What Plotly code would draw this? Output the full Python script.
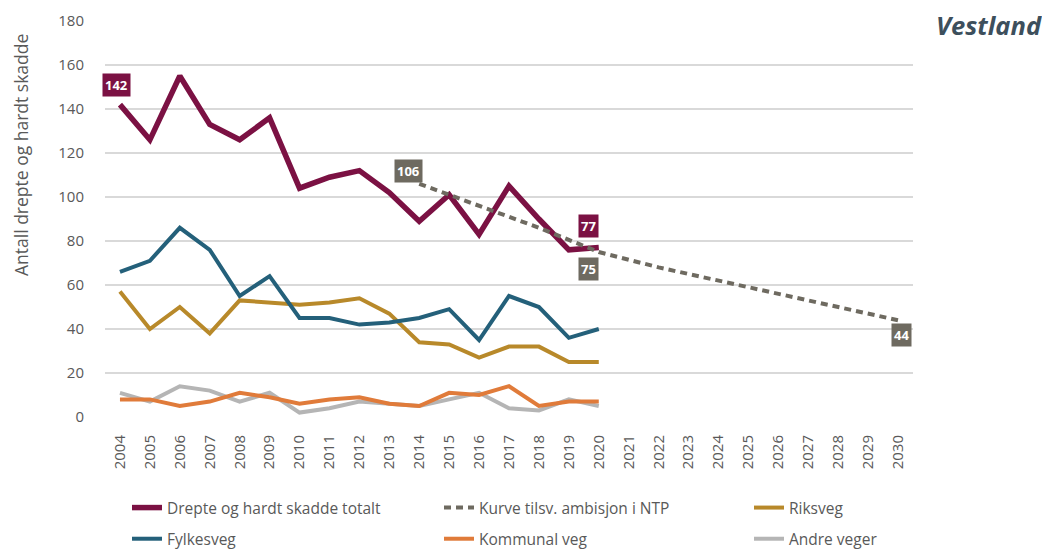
import plotly.graph_objects as go

years = list(range(2004, 2021))
all_years = list(range(2004, 2031))
totalt = [142, 126, 155, 133, 126, 136, 104, 109, 112, 102, 89, 101, 83, 105, 90, 76, 77]
fylkesveg = [66, 71, 86, 76, 55, 64, 45, 45, 42, 43, 45, 49, 35, 55, 50, 36, 40]
riksveg = [57, 40, 50, 38, 53, 52, 51, 52, 54, 47, 34, 33, 27, 32, 32, 25, 25]
kommunal = [8, 8, 5, 7, 11, 9, 6, 8, 9, 6, 5, 11, 10, 14, 5, 7, 7]
andre = [11, 7, 14, 12, 7, 11, 2, 4, 7, 6, 5, 8, 11, 4, 3, 8, 5]
ntp_years = list(range(2014, 2031))
ntp = [106, 101, 96, 91, 86, 80.5, 75, 71.5, 68, 65, 62, 59, 56, 53, 50, 47, 44]

C_TOT = "#7B1143"
C_NTP = "#6E6A60"
C_RIKS = "#B8892A"
C_FYLK = "#24607A"
C_KOMM = "#E07B3A"
C_ANDRE = "#B5B5B5"
TXT = "#595959"
FONT = "Open Sans"

# page has an 8px body margin: figure pixel = screen pixel - OFF
OFF = 8
W, H = 1042, 551
ML = 105 - OFF
MT = 21 - OFF
MR = W - (913 - OFF)
MB = H - (417 - OFF)
pw, ph = W - ML - MR, H - MT - MB

fig = go.Figure()
series = [
    (years, andre, "Andre veger", C_ANDRE, 4, None, "legend3", "b"),
    (years, kommunal, "Kommunal veg", C_KOMM, 4, None, "legend2", "b"),
    (years, riksveg, "Riksveg", C_RIKS, 4, None, "legend3", "a"),
    (years, fylkesveg, "Fylkesveg", C_FYLK, 4, None, "legend", "b"),
    (years, totalt, "Drepte og hardt skadde totalt", C_TOT, 5.5, None, "legend", "a"),
    (ntp_years, ntp, "Kurve tilsv. ambisjon i NTP", C_NTP, 4, "7px,5px", "legend2", "a"),
]
for xs, ys, name, col, w, dash, leg, grp in series:
    fig.add_trace(go.Scatter(x=xs, y=ys, name=name, mode="lines",
                             line=dict(color=col, width=w, dash=dash),
                             legend=leg, legendgroup=grp + leg, legendrank=1 if grp == "a" else 2))


def box(x, y, text, color):
    fig.add_annotation(x=x, y=y, xref="x", yref="y", text="<b>" + text + "</b>", showarrow=False,
                       bgcolor=color, font=dict(family=FONT, size=13, color="white"),
                       borderpad=2)


box(2003.9, 151, str(totalt[0]), C_TOT)
box(2013.65, 112, str(ntp[0]), C_NTP)
box(2019.65, 87, str(totalt[-1]), C_TOT)
box(2019.65, 67.5, str(ntp[6]), C_NTP)
box(2030.1, 37.5, str(ntp[-1]), C_NTP)


def px_x(sx):
    return (sx - OFF - ML) / pw


def px_y(sy):
    return (H - MB - (sy - OFF)) / ph


fig.add_annotation(x=px_x(1044), y=px_y(25), xref="paper", yref="paper",
                   text="<b><i>Vestland</i></b>", showarrow=False, xanchor="right", yanchor="middle",
                   font=dict(family=FONT, size=25.5, color="#3D4F5C"))

fig.add_annotation(x=px_x(21), y=px_y(155), xref="paper", yref="paper",
                   text="Antall drepte og hardt skadde", textangle=-90, showarrow=False,
                   xanchor="center", yanchor="middle",
                   font=dict(family=FONT, size=17.5, color=TXT))


def leg(text_x):
    lx = text_x - OFF - 41
    return dict(orientation="v", xref="container", yref="container",
                x=lx / W, y=1 - (491 - OFF) / H, xanchor="left", yanchor="top",
                traceorder="grouped", tracegroupgap=8, itemwidth=30,
                font=dict(family=FONT, size=15.5, color=TXT), bgcolor="rgba(0,0,0,0)")


fig.update_layout(
    width=W, height=H,
    margin=dict(l=ML, r=MR, t=MT, b=MB, autoexpand=False),
    plot_bgcolor="white", paper_bgcolor="white",
    font=dict(family=FONT, color=TXT),
    showlegend=True,
    legend=leg(168), legend2=leg(480), legend3=leg(790),
    xaxis=dict(range=[2003.5, 2030.5], tickmode="array", tickvals=all_years,
               ticktext=[str(y) for y in all_years], tickangle=-90, automargin=False,
               showgrid=False, zeroline=False, showline=False, ticks="", ticklabelstandoff=14,
               tickfont=dict(family=FONT, size=15, color=TXT)),
    yaxis=dict(range=[0, 180], dtick=20, showgrid=True, gridcolor="#D9D9D9", gridwidth=1.5,
               zeroline=False, showline=False, ticks="", automargin=False, ticklabelstandoff=20,
               tickfont=dict(family=FONT, size=15, color=TXT)),
)

fig.write_html("out.html")
